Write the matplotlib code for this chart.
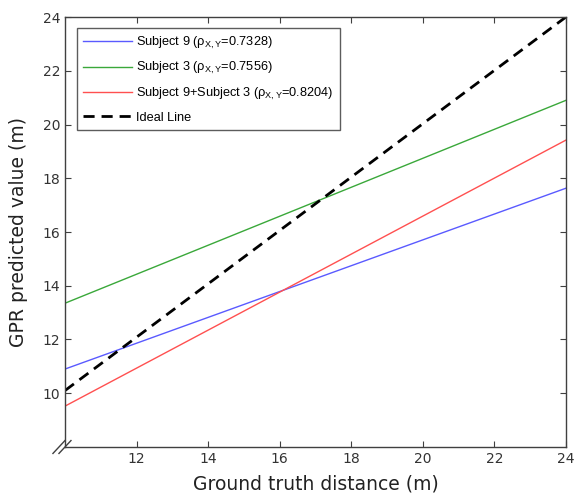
import numpy as np
import matplotlib.pyplot as plt

plt.rcParams['mathtext.fontset'] = 'custom'
plt.rcParams['mathtext.rm'] = 'Liberation Sans'

# ==========data==========
x_ends = [10, 24]
subject9 = [10.9, 17.63]
subject3 = [13.35, 20.9]
combined = [9.52, 19.42]
ideal = [10.1, 24.0]

labels = ['Subject 9 (ρ$_{\\mathrm{X,Y}}$=0.7328)',
          'Subject 3 (ρ$_{\\mathrm{X,Y}}$=0.7556)',
          'Subject 9+Subject 3 (ρ$_{\\mathrm{X,Y}}$=0.8204)',
          'Ideal Line']
x_ticks = [12, 14, 16, 18, 20, 22, 24]
y_ticks = [10, 12, 14, 16, 18, 20, 22, 24]

# ==========figure==========
fig = plt.figure(figsize=(5.74, 4.96), dpi=100)
ax = fig.add_axes([0.1132, 0.0988, 0.8728, 0.8669])

ax.plot(x_ends, subject9, color='#5a5aff', lw=1.0, label=labels[0])
ax.plot(x_ends, subject3, color='#3aa83a', lw=1.0, label=labels[1])
ax.plot(x_ends, combined, color='#ff5050', lw=1.0, label=labels[2])
ax.plot(x_ends, ideal, '--', color='black', lw=2.0, dashes=(4, 2.5), label=labels[3])

ax.set_xlim(10, 24)
ax.set_ylim(8, 24)
ax.set_xticks(x_ticks)
ax.set_yticks(y_ticks)
ax.tick_params(direction='in', top=True, right=True, length=4, width=0.8,
               colors='#404040', labelsize=10, labelcolor='#333333')
for s in ax.spines.values():
    s.set_color('#404040')
    s.set_linewidth(1.0)

ax.set_xlabel('Ground truth distance (m)', fontsize=13.5, color='#222222', labelpad=6)
ax.set_ylabel('GPR predicted value (m)', fontsize=13.5, color='#222222', labelpad=10)

# axis break mark at origin
for dx in (-0.012, 0.0):
    ax.plot([-0.012 + dx, 0.012 + dx], [-0.015, 0.015], color='#404040', lw=1.0,
            transform=ax.transAxes, clip_on=False)

leg = ax.legend(loc='upper left', bbox_to_anchor=(0.024, 0.974), borderaxespad=0,
                prop={'family': 'Liberation Sans', 'size': 9.2},
                frameon=True, fancybox=False, edgecolor='#333333',
                handlelength=3.8, borderpad=0.5, labelspacing=0.75,
                handletextpad=0.3)
leg.get_frame().set_linewidth(1.0)

fig.savefig('out.png', dpi=100)
